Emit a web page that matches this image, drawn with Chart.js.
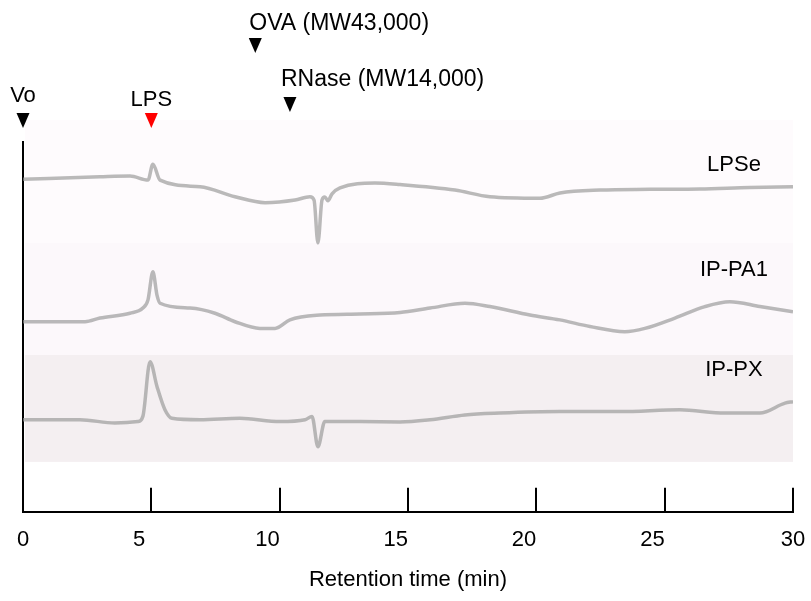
<!DOCTYPE html>
<html>
<head>
<meta charset="utf-8">
<script src="https://cdn.jsdelivr.net/npm/chart.js@4.4.1/dist/chart.umd.min.js"></script>
<style>
  html, body { margin: 0; padding: 0; background: #fff; }
  #wrap { width: 811px; height: 601px; }
</style>
</head>
<body>
<div id="wrap"><canvas id="chart"></canvas></div>
<script>
// ===== data (retention time in min, detector signal in arbitrary units) =====
const lpseTime   = [0, 3.0, 4.17, 4.87, 5.06, 5.34, 6.9, 8.26, 9.43, 10.6, 11.18, 11.34, 11.49, 11.65, 11.76, 11.88, 12.04, 12.35, 13.71, 14.69, 16.83, 18.19, 20.14, 20.92, 22.48, 24.43, 26.37, 28.32, 30];
const lpseSignal = [89.9, 90.6, 90.8, 89.7, 94.0, 89.7, 87.9, 85.2, 83.6, 84.3, 85.2, 84.3, 72.7, 84.3, 85.1, 84.1, 86.0, 87.6, 88.9, 88.5, 87.0, 85.2, 84.8, 86.2, 87.0, 87.2, 87.3, 87.7, 87.9];

const pa1Time   = [0, 2.42, 3.0, 4.17, 4.67, 4.87, 5.06, 5.22, 5.34, 6.51, 7.48, 8.26, 9.23, 9.82, 10.4, 11.57, 13.13, 14.69, 15.86, 17.22, 18.19, 19.75, 20.92, 22.09, 23.45, 24.23, 25.4, 26.57, 27.54, 28.71, 30];
const pa1Signal = [51.4, 51.4, 52.4, 53.7, 55.1, 57.3, 64.9, 58.6, 56.4, 55.1, 53.7, 51.4, 49.6, 49.6, 51.9, 53.2, 53.5, 53.9, 55.1, 56.4, 55.5, 53.2, 51.9, 50.1, 48.7, 49.6, 52.4, 55.5, 56.8, 55.5, 54.1];

const pxTime   = [0, 2.22, 3.58, 4.48, 4.67, 4.95, 5.22, 5.53, 5.8, 6.9, 8.45, 10.01, 10.99, 11.26, 11.49, 11.76, 13.13, 14.69, 15.86, 17.22, 18.58, 20.92, 23.26, 25.59, 27.35, 28.71, 29.69, 30];
const pxSignal = [24.9, 24.9, 24.0, 24.4, 25.8, 40.6, 33.9, 27.6, 25.3, 24.9, 25.3, 24.4, 24.9, 25.8, 17.6, 24.4, 24.4, 24.3, 24.9, 26.2, 26.7, 27.1, 27.1, 27.6, 26.7, 26.7, 29.4, 29.8];

const seriesNames = ['LPSe', 'IP-PA1', 'IP-PX'];
const xTicks = [0, 5, 10, 15, 20, 25, 30];

// elution markers above the plot
const markerNames = ['Vo', 'LPS', 'OVA (MW43,000)', 'RNase (MW14,000)'];
const markerTimes = [0, 5.0, 9.05, 10.4];

function toPoints(t, s) {
    return t.map((x, i) => ({ x: x, y: s[i] }));
}

// ===== plugins =====
// shaded sample bands behind the traces
const bandPlugin = {
    id: 'bands',
    beforeDatasetsDraw(chart, args, opts) {
        const { ctx, chartArea, scales: { y } } = chart;
        ctx.save();
        opts.bands.forEach(b => {
            const top = y.getPixelForValue(b.to);
            const bot = y.getPixelForValue(b.from);
            ctx.fillStyle = b.color;
            ctx.fillRect(chartArea.left + 2, top, chartArea.right - chartArea.left - 2, bot - top);
        });
        ctx.restore();
    }
};

// tick marks pointing up into the plot
const innerTicks = {
    id: 'innerTicks',
    afterDraw(chart, args, opts) {
        const { ctx, chartArea, scales: { x } } = chart;
        ctx.save();
        ctx.strokeStyle = '#000';
        ctx.lineWidth = 2;
        x.ticks.forEach(t => {
            const px = Math.round(x.getPixelForValue(t.value));
            ctx.beginPath();
            ctx.moveTo(px, chartArea.bottom);
            ctx.lineTo(px, chartArea.bottom - opts.length);
            ctx.stroke();
        });
        ctx.restore();
    }
};

// trace names + marker triangles / captions
const notePlugin = {
    id: 'notes',
    afterDatasetsDraw(chart, args, opts) {
        const { ctx, scales: { x, y } } = chart;
        ctx.save();
        ctx.font = opts.font;
        ctx.fillStyle = '#000';
        ctx.textBaseline = 'middle';
        ctx.textAlign = 'center';
        seriesNames.forEach((name, i) => {
            const p = opts.namePos[i];
            ctx.fillText(name, x.getPixelForValue(p[0]), y.getPixelForValue(p[1]));
        });

        markerNames.forEach((name, i) => {
            const m = opts.markers[i];
            const px = x.getPixelForValue(markerTimes[i]);
            ctx.fillStyle = m.color;
            ctx.beginPath();
            ctx.moveTo(px - 6.5, m.tip - 15);
            ctx.lineTo(px + 6.5, m.tip - 15);
            ctx.lineTo(px, m.tip);
            ctx.closePath();
            ctx.fill();
            ctx.fillStyle = '#000';
            ctx.font = m.font || opts.font;
            ctx.textAlign = m.align;
            ctx.fillText(name, m.align === 'left' ? px - 6 + m.dx : px, m.textY);
        });
        ctx.restore();
    }
};

const lineStyle = {
    borderColor: 'rgba(150,150,150,0.66)',
    borderWidth: 3.5,
    pointRadius: 0,
    cubicInterpolationMode: 'monotone',
    fill: false
};

Chart.defaults.font.family = "'Liberation Sans', Arial, sans-serif";
Chart.defaults.color = '#000';

const bigFont = "23px 'Liberation Sans', Arial, sans-serif";

new Chart(document.getElementById('chart'), {
    type: 'line',
    data: {
        datasets: [
            Object.assign({ label: seriesNames[0], data: toPoints(lpseTime, lpseSignal) }, lineStyle),
            Object.assign({ label: seriesNames[1], data: toPoints(pa1Time, pa1Signal) }, lineStyle),
            Object.assign({ label: seriesNames[2], data: toPoints(pxTime, pxSignal) }, lineStyle)
        ]
    },
    options: {
        responsive: true,
        maintainAspectRatio: false,
        animation: false,
        layout: { padding: { left: 23, right: 18, top: 142, bottom: 4 } },
        plugins: {
            legend: { display: false },
            tooltip: { enabled: false },
            bands: {
                bands: [
                    { from: 72.7, to: 106, color: '#fefbfd' },
                    { from: 42.4, to: 72.7, color: '#fcf8fb' },
                    { from: 13.5, to: 42.4, color: '#f4eff1' }
                ]
            },
            innerTicks: { length: 24 },
            notes: {
                font: "22px 'Liberation Sans', Arial, sans-serif",
                namePos: [[27.7, 93.9], [27.7, 65.5], [27.7, 38.4]],
                markers: [
                    { tip: 128, textY: 96, align: 'center', dx: 0, color: '#000' },
                    { tip: 128, textY: 100, align: 'center', dx: 0, color: '#ff0000' },
                    { tip: 53, textY: 24, align: 'left', dx: 0, color: '#000', font: bigFont },
                    { tip: 112, textY: 80, align: 'left', dx: -3, color: '#000', font: bigFont }
                ]
            }
        },
        scales: {
            x: {
                type: 'linear',
                min: 0,
                max: 30,
                afterBuildTicks: s => { s.ticks = xTicks.map(v => ({ value: v })); },
                // inner labels sit a bit left of their tick marks in the original
                ticks: {
                    font: { size: 22 },
                    padding: 1,
                    maxRotation: 0,
                    autoSkip: false,
                    callback: v => (v === 0 || v === 30) ? String(v) : v + '    '
                },
                // invisible outer tick marks only make the gap under the axis
                grid: { display: true, drawOnChartArea: false, drawTicks: true, tickLength: 14, tickColor: 'rgba(0,0,0,0)' },
                border: { display: true, color: '#000', width: 2 },
                title: { display: true, text: 'Retention time (min)', font: { size: 22 }, padding: { top: 12.4, bottom: 4 } }
            },
            y: {
                min: 0,
                max: 100,
                ticks: { display: false },
                grid: { display: false, drawTicks: false },
                border: { display: true, color: '#000', width: 2 }
            }
        }
    },
    plugins: [bandPlugin, notePlugin, innerTicks]
});
</script>
</body>
</html>
